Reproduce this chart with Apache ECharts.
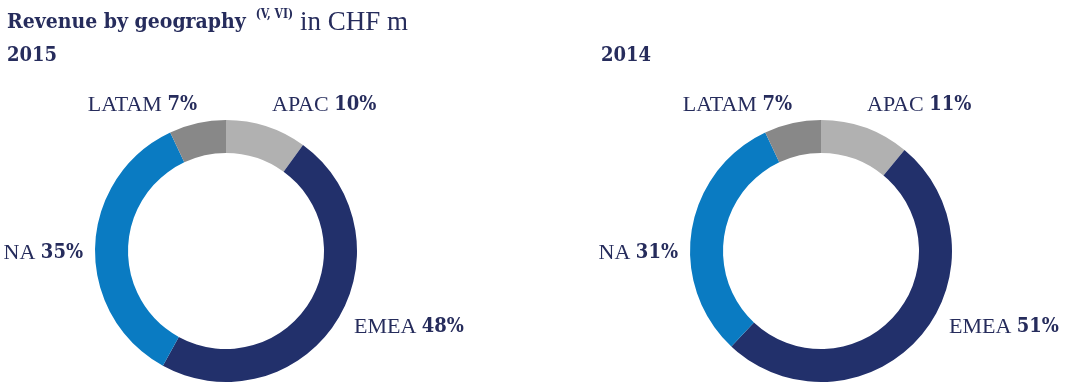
<!DOCTYPE html>
<html><head><meta charset="utf-8">
<script src="https://cdn.jsdelivr.net/npm/echarts@6/dist/echarts.min.js"></script>
<style>html,body{margin:0;padding:0;background:#fff}#c{width:1066px;height:389px}</style>
</head><body><div id="c"></div>
<script>
const categories = ['APAC', 'EMEA', 'NA', 'LATAM'];
const values2015 = [10, 48, 35, 7];
const values2014 = [11, 51, 31, 7];
const years = ['2015', '2014'];
const colors = ['#b1b1b1', '#22306b', '#0a7bc2', '#888888'];
const NAVY = '#262c5c';
const BOLD_FONT = '"DejaVu Serif Condensed", "DejaVu Serif", serif';
// label anchor offsets from the donut centre (layout only)
const labelOffsets = {
  APAC: [46, -146, 'left'],
  EMEA: [128, 76, 'left'],
  NA: [-143, 2, 'right'],
  LATAM: [-29, -146, 'right']
};
const centers = [[226, 251], [821, 251]];

const chart = echarts.init(document.getElementById('c'), null, {renderer: 'canvas'});

function makeSeries(vals, idx) {
  return {
    type: 'pie',
    center: centers[idx],
    radius: [98, 131],
    startAngle: 90,
    clockwise: true,
    silent: true,
    avoidLabelOverlap: false,
    itemStyle: {borderWidth: 0},
    labelLine: {show: false},
    label: {
      show: true,
      position: 'outside',
      formatter: p => '{n|' + p.name + ' }{v|' + p.value + '%}',
      rich: {
        n: {fontFamily: 'Liberation Serif', fontWeight: 'normal', fontSize: 22, color: NAVY},
        v: {fontFamily: BOLD_FONT, fontWeight: 'bold', fontSize: 20, color: NAVY}
      }
    },
    labelLayout: function (p) {
      const o = labelOffsets[categories[p.dataIndex]];
      return {x: centers[idx][0] + o[0], y: centers[idx][1] + o[1], align: o[2], verticalAlign: 'middle'};
    },
    data: categories.map((c, i) => ({name: c, value: vals[i], itemStyle: {color: colors[i]}}))
  };
}

chart.setOption({
  animation: false,
  title: [
    {
      left: 7, top: 9, padding: 0,
      text: '{b|Revenue by geography}{s|(V, VI)}{r| in CHF m}',
      textStyle: {
        rich: {
          b: {fontFamily: BOLD_FONT, fontWeight: 'bold', fontSize: 21, color: NAVY},
          s: {fontFamily: BOLD_FONT, fontWeight: 'bold', fontSize: 12, color: NAVY, verticalAlign: 'top', padding: [0, 0, 10, 10]},
          r: {fontFamily: 'Liberation Serif', fontWeight: 'normal', fontSize: 27, color: NAVY}
        }
      }
    },
    {left: 7, top: 46, padding: 0, text: years[0], textStyle: {fontFamily: BOLD_FONT, fontWeight: 'bold', fontSize: 20, color: NAVY}},
    {left: 601, top: 46, padding: 0, text: years[1], textStyle: {fontFamily: BOLD_FONT, fontWeight: 'bold', fontSize: 20, color: NAVY}}
  ],
  series: [makeSeries(values2015, 0), makeSeries(values2014, 1)]
});
</script></body></html>
